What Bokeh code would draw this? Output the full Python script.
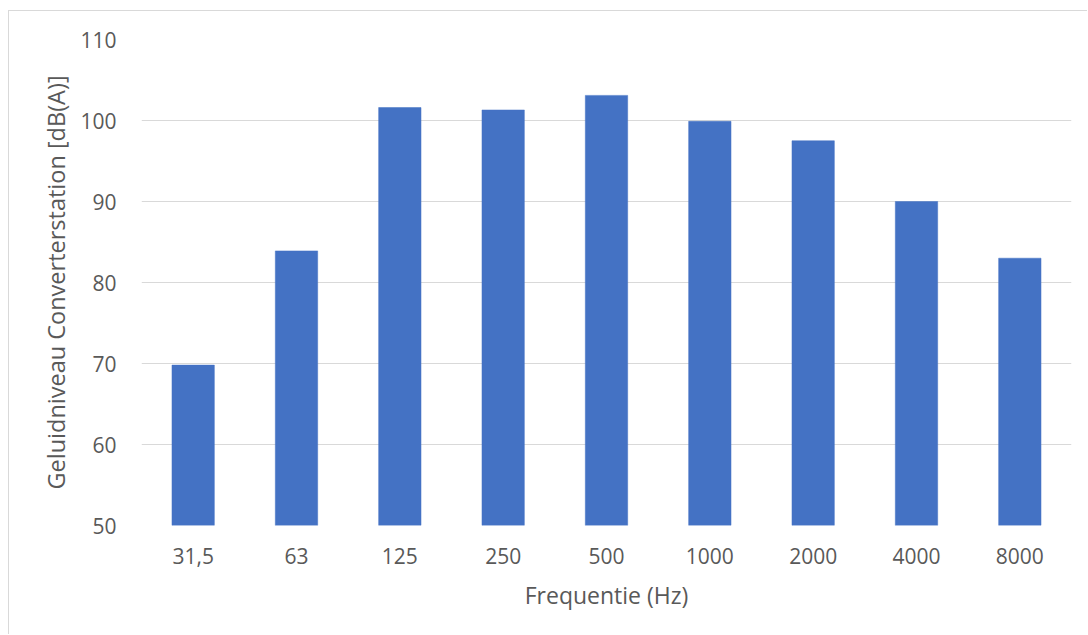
from bokeh.plotting import figure
from bokeh.models import FactorRange, Range1d, FixedTicker
from bokeh.embed import file_html
from bokeh.resources import INLINE

frequencies = ["31,5", "63", "125", "250", "500", "1000", "2000", "4000", "8000"]
levels = [69.8, 83.9, 101.6, 101.3, 103.1, 99.9, 97.5, 90.0, 83.0]
y_ticks = [50, 60, 70, 80, 90, 100, 110]

TEXT = "#595959"
FONT = "Open Sans"

p = figure(
    x_range=FactorRange(*frequencies, range_padding=0),
    y_range=Range1d(50, 110),
    width=1079, height=624,
    output_backend="svg", toolbar_location=None,
    min_border_left=132, min_border_right=17,
    min_border_top=28, min_border_bottom=110,
)
p.styles = {"border-left": "1px solid #D9D9D9", "border-top": "1px solid #D9D9D9",
            "margin-top": "10px", "margin-left": "8px"}
p.outline_line_color = None
p.background_fill_color = "white"
p.border_fill_color = "white"

p.vbar(x=frequencies, top=levels, bottom=50, width=0.41,
       fill_color="#4472C4", line_color="#4472C4", line_width=0.5)

p.yaxis.ticker = FixedTicker(ticks=y_ticks)
p.ygrid.ticker = FixedTicker(ticks=y_ticks)
p.ygrid.grid_line_color = "#D9D9D9"
p.ygrid.grid_line_width = 1
p.xgrid.grid_line_color = None

for ax in (p.xaxis, p.yaxis):
    ax.axis_line_color = None
    ax.major_tick_line_color = None
    ax.minor_tick_line_color = None
    ax.major_label_text_font = FONT
    ax.major_label_text_font_size = "21px"
    ax.major_label_text_color = TEXT
    ax.axis_label_text_font = FONT
    ax.axis_label_text_font_size = "23px"
    ax.axis_label_text_font_style = "normal"
    ax.axis_label_text_color = TEXT

p.yaxis.axis_label_text_font_size = "23.5px"
p.xaxis.axis_label = "Frequentie (Hz)"
p.yaxis.axis_label = "Geluidniveau Converterstation [dB(A)]"
p.xaxis.major_label_standoff = 16
p.xaxis.axis_label_standoff = 12
p.yaxis.major_label_standoff = 19
p.yaxis.axis_label_standoff = 5

open("out.html", "w").write(file_html(p, INLINE))
